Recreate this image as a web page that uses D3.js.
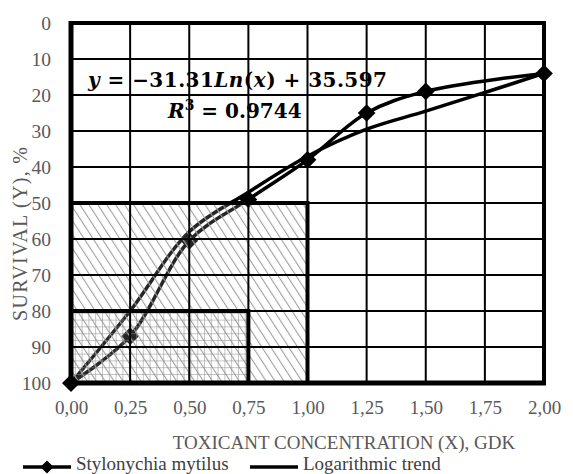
<!DOCTYPE html>
<html>
<head>
<meta charset="utf-8">
<script src="https://cdn.jsdelivr.net/npm/d3@7"></script>
<style>
  body { margin: 0; background: #fff; }
  text { font-family: "Liberation Serif", "Times New Roman", serif; }
  text.eq { font-family: "DejaVu Serif", serif; }
</style>
</head>
<body>
<svg width="573" height="474"></svg>
<script>
// values
const conc = [0, 0.25, 0.5, 0.75, 1.0, 1.25, 1.5, 2.0];
const survival = [100, 87, 60.5, 49, 38, 25, 19, 14];
const trendX = [0, 0.25, 0.5, 0.75, 1.0, 1.25, 1.5, 1.75, 2.0];
const trendY = [100, 80, 58, 47, 37, 29.5, 24.5, 19.3, 14];
const xTicks = [0, 0.25, 0.5, 0.75, 1.0, 1.25, 1.5, 1.75, 2.0];
const yTicks = [0, 10, 20, 30, 40, 50, 60, 70, 80, 90, 100];
// shaded zones: [x0, x1, y0, y1]
const zoneBig = [0, 1.0, 50, 100];
const zoneSmall = [0, 0.75, 80, 100];

const svg = d3.select("svg");
const pLeft = 71, pRight = 544, pTop = 23, pBottom = 383;

const x = d3.scaleLinear().domain([0, 2]).range([pLeft, pRight]);
const y = d3.scaleLinear().domain([0, 100]).range([pTop, pBottom]);

const defs = svg.append("defs");
const diag = defs.append("pattern")
  .attr("id", "diag").attr("patternUnits", "userSpaceOnUse")
  .attr("width", 7.5).attr("height", 8)
  .attr("patternTransform", "rotate(-33)");
diag.append("rect").attr("width", 8).attr("height", 8).attr("fill", "rgba(255,255,255,0.15)");
diag.append("line").attr("x1", 0).attr("y1", 0).attr("x2", 0).attr("y2", 8)
  .attr("stroke", "#a0a0a0").attr("stroke-width", 2.2);

const grid = defs.append("pattern")
  .attr("id", "fine").attr("patternUnits", "userSpaceOnUse")
  .attr("width", 6.8).attr("height", 6.8);
grid.append("path").attr("d", "M0,0H6.8M0,0V6.8")
  .attr("stroke", "#8a8a8a").attr("stroke-width", 1).attr("fill", "none");

defs.append("clipPath").attr("id", "outside")
  .append("path").attr("d", "M-20,0H0V-20H20V20H-20Z");

// series first, zones drawn over them
const line = d3.line().x(d => x(d[0])).y(d => y(d[1])).curve(d3.curveCatmullRom);

svg.append("path")
  .datum(d3.zip(trendX, trendY))
  .attr("d", line)
  .attr("fill", "none").attr("stroke", "#000").attr("stroke-width", 3.5);

svg.append("path")
  .datum(d3.zip(conc, survival))
  .attr("d", line)
  .attr("fill", "none").attr("stroke", "#000").attr("stroke-width", 3.5);

const diamond = d3.symbol().type(d3.symbolDiamond2).size(200);
svg.selectAll(".pt")
  .data(d3.zip(conc, survival))
  .join("path")
  .attr("class", "pt")
  .attr("transform", d => `translate(${x(d[0])},${y(d[1])})`)
  .attr("d", diamond)
  .attr("fill", "#000");

function zone(z, fill) {
  return svg.append("rect")
    .attr("x", x(z[0])).attr("y", y(z[2]))
    .attr("width", x(z[1]) - x(z[0])).attr("height", y(z[3]) - y(z[2]))
    .attr("fill", fill);
}
zone(zoneBig, "url(#diag)");
zone(zoneSmall, "url(#fine)");

// gridlines
svg.append("g")
  .selectAll("line")
  .data(xTicks)
  .join("line")
  .attr("x1", d => x(d)).attr("x2", d => x(d))
  .attr("y1", pTop).attr("y2", pBottom)
  .attr("stroke", "#000").attr("stroke-width", 2);
svg.append("g")
  .selectAll("line")
  .data(yTicks)
  .join("line")
  .attr("x1", pLeft).attr("x2", pRight)
  .attr("y1", d => y(d)).attr("y2", d => y(d))
  .attr("stroke", "#000").attr("stroke-width", 2);

// zone borders
[zoneBig, zoneSmall].forEach(z => zone(z, "none").attr("stroke", "#000").attr("stroke-width", 4));

// plot frame
svg.append("rect")
  .attr("x", pLeft).attr("y", pTop)
  .attr("width", pRight - pLeft).attr("height", pBottom - pTop)
  .attr("fill", "none").attr("stroke", "#000").attr("stroke-width", 4);
svg.append("line").attr("x1", pLeft).attr("x2", pLeft).attr("y1", pTop - 2).attr("y2", pBottom + 2)
  .attr("stroke", "#000").attr("stroke-width", 5);
svg.append("line").attr("x1", pLeft - 2).attr("x2", pRight + 2).attr("y1", pBottom).attr("y2", pBottom)
  .attr("stroke", "#000").attr("stroke-width", 5);

// origin marker: the part outside the zones stays black
svg.append("path")
  .attr("transform", `translate(${x(conc[0])},${y(survival[0])})`)
  .attr("d", diamond).attr("fill", "#000")
  .attr("clip-path", "url(#outside)");

// axes labels
const xAxis = svg.append("g")
  .attr("transform", `translate(0,${pBottom + 14})`)
  .call(d3.axisBottom(x).tickValues(xTicks).tickSize(0)
    .tickFormat(d => d3.format(".2f")(d).replace(".", ",")));
xAxis.select(".domain").remove();
xAxis.selectAll("text").attr("font-size", 19).attr("fill", "#595959");

const yAxis = svg.append("g")
  .attr("transform", `translate(${pLeft - 17},0)`)
  .call(d3.axisLeft(y).tickValues(yTicks).tickSize(0));
yAxis.select(".domain").remove();
yAxis.selectAll("text").attr("font-size", 19.5).attr("fill", "#595959");

svg.append("text")
  .attr("x", 344).attr("y", 449)
  .attr("text-anchor", "middle").attr("font-size", 19).attr("fill", "#595959")
  .text("TOXICANT CONCENTRATION (X), GDK");

svg.append("text")
  .attr("transform", "translate(27,234) rotate(-90)")
  .attr("text-anchor", "middle").attr("font-size", 20).attr("fill", "#595959")
  .attr("textLength", 174).attr("lengthAdjust", "spacing")
  .text("SURVIVAL (Y), %");

// equation
const eq = svg.append("text").attr("class", "eq")
  .attr("x", 88).attr("y", 87)
  .attr("font-size", 20).attr("font-weight", "bold").attr("fill", "#000")
  .attr("textLength", 299).attr("lengthAdjust", "spacing");
eq.append("tspan").attr("font-style", "italic").text("y");
eq.append("tspan").text(" = −31.31");
eq.append("tspan").attr("font-style", "italic").text("Ln");
eq.append("tspan").text("(");
eq.append("tspan").attr("font-style", "italic").text("x");
eq.append("tspan").text(") + 35.597");

const r2 = svg.append("text").attr("class", "eq")
  .attr("x", 168).attr("y", 118)
  .attr("font-size", 20).attr("font-weight", "bold").attr("fill", "#000");
r2.append("tspan").attr("font-style", "italic").text("R");
r2.append("tspan").attr("font-size", 14).attr("dy", -8).text("3");
r2.append("tspan").attr("dy", 8).text(" = 0.9744");

// legend
const lg = svg.append("g").attr("transform", "translate(0,467)");
lg.append("line").attr("x1", 23).attr("x2", 71).attr("stroke", "#000").attr("stroke-width", 3.5);
lg.append("path").attr("transform", "translate(47,0)")
  .attr("d", d3.symbol().type(d3.symbolDiamond2).size(110)).attr("fill", "#000");
lg.append("text").attr("x", 76).attr("y", 2.5).attr("font-size", 19).attr("fill", "#404040")
  .text("Stylonychia mytilus");
lg.append("line").attr("x1", 250).attr("x2", 298).attr("stroke", "#000").attr("stroke-width", 3.5);
lg.append("text").attr("x", 303).attr("y", 2.5).attr("font-size", 19).attr("fill", "#404040")
  .text("Logarithmic trend");
</script>
</body>
</html>
